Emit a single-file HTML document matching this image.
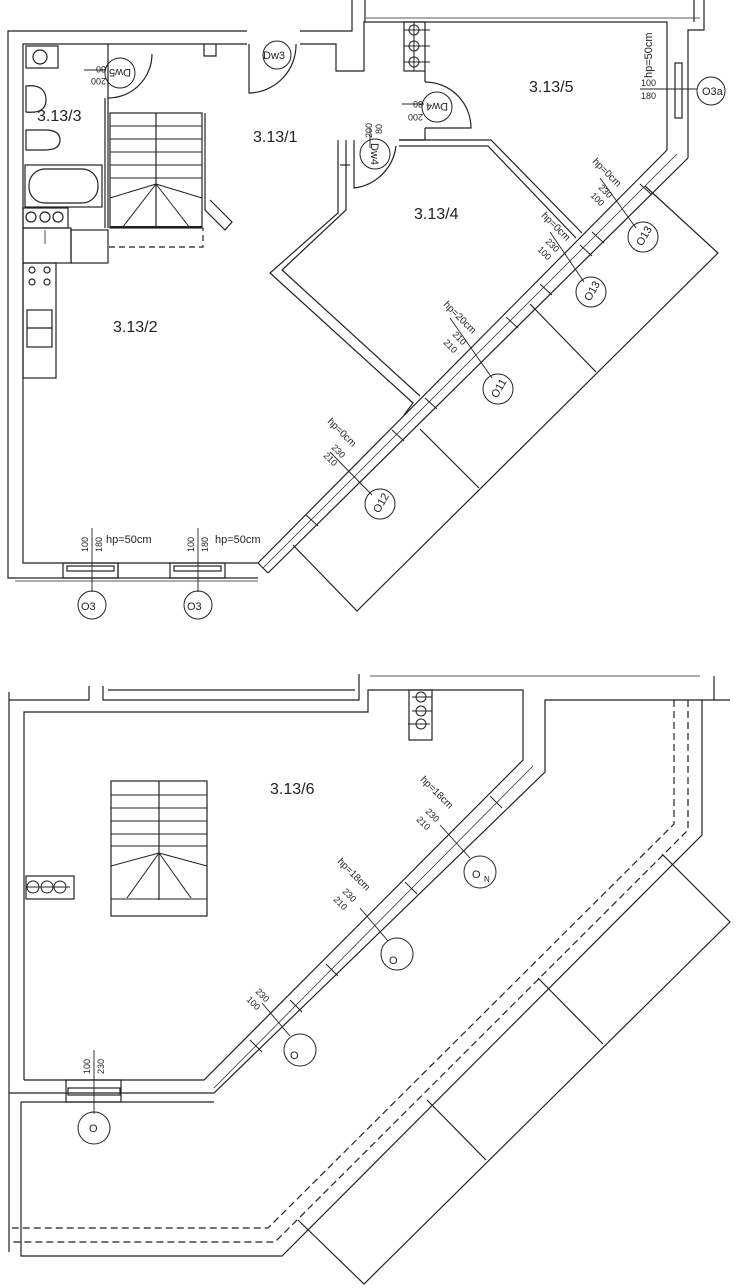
<!DOCTYPE html>
<html><head><meta charset="utf-8"><style>
html,body{margin:0;padding:0;background:#fff;width:736px;height:1288px;overflow:hidden}
svg{display:block}
text{font-family:"Liberation Sans",sans-serif;fill:#222}
</style></head><body>
<svg width="736" height="1288" viewBox="0 0 736 1288" xmlns="http://www.w3.org/2000/svg" fill="none" stroke="#222" stroke-width="1.2">
<!-- ========== TOP PLAN ========== -->
<!-- outer walls -->
<polyline points="247,31 8,31 8,578 258,578"/>
<polyline points="247,44 23,44 23,563 258,563"/>
<polyline points="300,31 352,31 352,0"/>
<polyline points="300,44 336,44 336,71 364,71 364,22 667,22 667,150"/>
<line x1="365" y1="0" x2="365" y2="22"/>
<line x1="366" y1="18" x2="700" y2="18" stroke-width="0.8"/>
<polyline points="688,158 688,30 704,30 704,0"/>
<line x1="694" y1="0" x2="694" y2="22"/>
<!-- small jog top -->
<polyline points="204,44 204,56 216,56 216,44"/>
<!-- facade diagonal -->
<line x1="258" y1="563" x2="667" y2="150"/>
<line x1="268" y1="573" x2="688" y2="158"/>
<line x1="263" y1="568" x2="677" y2="154" stroke-width="0.7"/>
<line x1="258" y1="563" x2="268" y2="573"/>
<!-- window ticks on facade -->
<g stroke-width="1">
<line x1="306" y1="515" x2="318" y2="526"/><line x1="392" y1="430" x2="404" y2="441"/>
<line x1="425" y1="398" x2="437" y2="409"/><line x1="506" y1="317" x2="518" y2="328"/>
<line x1="540" y1="284" x2="552" y2="295"/><line x1="580" y1="245" x2="592" y2="256"/>
<line x1="592" y1="232" x2="604" y2="243"/><line x1="640" y1="184" x2="652" y2="195"/>
</g>
<!-- balcony -->
<polyline points="293,545 357,611 718,253 645,186"/>
<line x1="420" y1="429" x2="479" y2="488"/>
<line x1="530" y1="304" x2="596" y2="372"/>
<!-- room 3.13/4 walls -->
<polyline points="338,140 338,213 270,273 413,403 404,415"/>
<polyline points="346,140 346,210 282,270 420,396"/>
<polyline points="399,140 491,140 582,233"/>
<polyline points="399,146 488,146 576,238"/>
<!-- wall between 3.13/5 and 3.13/1 -->
<line x1="425" y1="71" x2="425" y2="82"/>
<line x1="425" y1="128" x2="425" y2="140"/>
<line x1="399" y1="140" x2="425" y2="140"/>
<!-- right room window -->
<rect x="675" y="63" width="7" height="55"/>
<!-- shaft box -->
<rect x="404" y="22" width="21" height="49"/>
<g stroke-width="1"><circle cx="414" cy="30" r="5"/><circle cx="414" cy="46" r="5"/><circle cx="414" cy="62" r="5"/>
<line x1="404" y1="30" x2="430" y2="30"/><line x1="404" y1="46" x2="430" y2="46"/><line x1="404" y1="62" x2="430" y2="62"/>
<line x1="414" y1="22" x2="414" y2="71"/></g>
<!-- doors -->
<path d="M249,44 L249,93 A48,48 0 0 0 296,44"/>
<path d="M108,44 L108,98 A44,44 0 0 0 152,54"/>
<path d="M425,82 A46,46 0 0 1 471,128 L425,128"/>
<path d="M354,140 L354,188 A48,48 0 0 0 396,146"/>
<line x1="340" y1="165" x2="350" y2="165"/>
<!-- bathroom -->
<line x1="105" y1="98" x2="105" y2="228"/>
<line x1="108" y1="98" x2="108" y2="228"/>
<rect x="26" y="46" width="32" height="22"/><circle cx="40" cy="57" r="7"/>
<path d="M26,86 Q46,84 46,100 Q46,114 26,112 Z"/>
<path d="M26,130 L45,130 Q60,130 60,140 Q60,150 45,150 L26,150 Z"/>
<rect x="25" y="165" width="77" height="42"/>
<rect x="29" y="169" width="69" height="34" rx="16"/>
<rect x="23" y="208" width="45" height="20"/>
<circle cx="31" cy="217" r="5"/><circle cx="45" cy="217" r="5"/><circle cx="58" cy="217" r="5"/>
<rect x="23" y="228" width="48" height="35"/><rect x="71" y="230" width="37" height="33"/>
<line x1="45" y1="230" x2="45" y2="244" stroke-width="0.8"/>
<!-- kitchen -->
<rect x="23" y="263" width="33" height="115"/>
<circle cx="32" cy="270" r="3"/><circle cx="47" cy="270" r="3"/><circle cx="32" cy="282" r="3"/><circle cx="47" cy="282" r="3"/>
<rect x="27" y="310" width="25" height="37"/>
<line x1="27" y1="328" x2="52" y2="328"/>
<!-- stair -->
<rect x="110" y="113" width="92" height="115"/>
<line x1="156" y1="113" x2="156" y2="228"/>
<g stroke-width="1">
<line x1="110" y1="126" x2="202" y2="126"/><line x1="110" y1="139" x2="202" y2="139"/>
<line x1="110" y1="152" x2="202" y2="152"/><line x1="110" y1="165" x2="202" y2="165"/>
<line x1="110" y1="178" x2="202" y2="178"/>
<line x1="156" y1="184" x2="110" y2="198"/><line x1="156" y1="184" x2="122" y2="228"/>
<line x1="156" y1="184" x2="190" y2="228"/><line x1="156" y1="184" x2="202" y2="198"/>
</g>
<line x1="110" y1="227" x2="202" y2="227" stroke-width="2"/>
<polyline points="109,247 203,247 203,228" stroke-dasharray="6,4"/>
<polyline points="205,113 205,210 225,230 232,222 210,200"/>
<!-- bottom windows -->
<rect x="63" y="563" width="55" height="15"/><rect x="67" y="566" width="47" height="5"/>
<rect x="170" y="563" width="55" height="15"/><rect x="174" y="566" width="47" height="5"/>
<line x1="118" y1="563" x2="118" y2="578"/>
<line x1="15" y1="581" x2="258" y2="581" stroke-width="0.8"/>
<!-- leader lines top -->
<g stroke-width="0.9">
<line x1="92" y1="528" x2="92" y2="592"/><line x1="198" y1="528" x2="198" y2="592"/>
<line x1="640" y1="89" x2="697" y2="89"/>
<line x1="600" y1="178" x2="636" y2="228"/>
<line x1="550" y1="232" x2="584" y2="282"/>
<line x1="450" y1="318" x2="492" y2="378"/>
<line x1="330" y1="452" x2="372" y2="495"/>
<line x1="84" y1="70" x2="106" y2="70"/><line x1="402" y1="104" x2="424" y2="104"/>
<line x1="370" y1="128" x2="370" y2="148"/>
</g>
<!-- circles top -->
<g stroke-width="1">
<circle cx="92" cy="605" r="14"/><circle cx="198" cy="605" r="14"/>
<circle cx="711" cy="91" r="14"/><circle cx="277" cy="55" r="14"/>
<circle cx="120" cy="73" r="15"/><circle cx="437" cy="107" r="15"/><circle cx="375" cy="154" r="15"/>
<circle cx="643" cy="237" r="15"/><circle cx="591" cy="292" r="15"/>
<circle cx="498" cy="389" r="15"/><circle cx="380" cy="504" r="15"/>
</g>
<g stroke="none" font-size="16">
<text x="37" y="121" fill="#222">3.13/3</text>
<text x="253" y="142" fill="#222">3.13/1</text>
<text x="113" y="332" fill="#222">3.13/2</text>
<text x="414" y="219" fill="#222">3.13/4</text>
<text x="529" y="92" fill="#222">3.13/5</text>
</g>
<g stroke="none" font-size="11">
<text x="81" y="610" fill="#222">O3</text><text x="187" y="610" fill="#222">O3</text>
<text x="702" y="95" fill="#222">O3a</text><text x="263" y="59" fill="#222">Dw3</text>
<text transform="translate(120,73) rotate(180)" x="-11" y="4" fill="#222">Dw5</text>
<text transform="translate(437,107) rotate(180)" x="-11" y="4" fill="#222">Dw4</text>
<text transform="translate(375,154) rotate(90)" x="-11" y="4" fill="#222">Dw4</text>
<text transform="translate(643,237) rotate(-60)" x="-9" y="4" fill="#222">O13</text>
<text transform="translate(591,292) rotate(-60)" x="-9" y="4" fill="#222">O13</text>
<text transform="translate(498,389) rotate(-60)" x="-9" y="4" fill="#222">O11</text>
<text transform="translate(380,504) rotate(-60)" x="-9" y="4" fill="#222">O12</text>
<text x="215" y="543" fill="#222">hp=50cm</text><text x="106" y="543" fill="#222">hp=50cm</text>
<text transform="translate(652,48) rotate(-90)" x="-30" y="0" fill="#222">hp=50cm</text>
</g>
<g stroke="none" font-size="9">
<text transform="translate(88,552) rotate(-90)" fill="#222">100</text>
<text transform="translate(102,552) rotate(-90)" fill="#222">180</text>
<text transform="translate(194,552) rotate(-90)" fill="#222">100</text>
<text transform="translate(208,552) rotate(-90)" fill="#222">180</text>
<text x="641" y="86" fill="#222">100</text><text x="641" y="99" fill="#222">180</text>
<text transform="translate(106,66) rotate(180)" fill="#222">80</text>
<text transform="translate(106,78) rotate(180)" fill="#222">200</text>
<text transform="translate(423,101) rotate(180)" fill="#222">80</text>
<text transform="translate(423,114) rotate(180)" fill="#222">200</text>
<text transform="translate(372,138) rotate(-90)" fill="#222">200</text>
<text transform="translate(382,134) rotate(-90)" fill="#222">80</text>
<text transform="translate(592,162) rotate(45)" font-size="10" fill="#222">hp=0cm</text>
<text transform="translate(598,188) rotate(45)" fill="#222">230</text>
<text transform="translate(590,196) rotate(45)" fill="#222">100</text>
<text transform="translate(541,216) rotate(45)" font-size="10" fill="#222">hp=0cm</text>
<text transform="translate(545,242) rotate(45)" fill="#222">230</text>
<text transform="translate(537,250) rotate(45)" fill="#222">100</text>
<text transform="translate(443,305) rotate(45)" font-size="10" fill="#222">hp=20cm</text>
<text transform="translate(452,335) rotate(45)" fill="#222">210</text>
<text transform="translate(443,343) rotate(45)" fill="#222">210</text>
<text transform="translate(327,422) rotate(45)" font-size="10" fill="#222">hp=0cm</text>
<text transform="translate(331,448) rotate(45)" fill="#222">230</text>
<text transform="translate(323,456) rotate(45)" fill="#222">210</text>
</g>

<!-- ========== BOTTOM PLAN ========== -->
<line x1="9" y1="692" x2="9" y2="1252"/>
<polyline points="9,700 89,700 89,686"/>
<polyline points="103,686 103,700 359,700 359,674"/>
<line x1="108" y1="690" x2="355" y2="690"/>
<line x1="370" y1="676" x2="700" y2="676" stroke-width="0.8"/>
<polyline points="24,1080 24,712 368,712 368,690 523,690 523,760 204,1080 24,1080"/>
<polyline points="9,1093 214,1093 545,772 545,700 730,700"/>
<line x1="714" y1="676" x2="714" y2="700"/>
<polyline points="21,1102 214,1102"/>
<polyline points="702,700 702,835 282,1256 21,1256 21,1102"/>
<polyline points="674,700 674,824 268,1228 12,1228" stroke-dasharray="7,4"/>
<polyline points="688,700 688,830 275,1242 12,1242" stroke-dasharray="7,4"/>
<!-- inner facade line -->
<line x1="214" y1="1088" x2="533" y2="766" stroke-width="0.7"/>
<g stroke-width="1">
<line x1="490" y1="796" x2="502" y2="808"/><line x1="405" y1="882" x2="417" y2="894"/>
<line x1="326" y1="964" x2="338" y2="976"/><line x1="290" y1="1000" x2="302" y2="1012"/>
<line x1="250" y1="1040" x2="262" y2="1052"/>
</g>
<!-- bottom balcony -->
<polyline points="298,1220 364,1284 730,922 662,854"/>
<line x1="538" y1="978" x2="603" y2="1044"/>
<line x1="427" y1="1100" x2="486" y2="1160"/>
<!-- window bottom -->
<rect x="66" y="1080" width="55" height="22"/><rect x="68" y="1088" width="52" height="7"/>
<!-- vents -->
<rect x="409" y="690" width="23" height="50"/>
<g stroke-width="1"><circle cx="421" cy="697" r="5"/><circle cx="421" cy="711" r="5"/><circle cx="421" cy="724" r="5"/>
<line x1="412" y1="697" x2="432" y2="697"/><line x1="412" y1="711" x2="432" y2="711"/><line x1="408" y1="724" x2="430" y2="724"/></g>
<rect x="26" y="876" width="48" height="23"/>
<g stroke-width="1"><circle cx="33" cy="887" r="6"/><circle cx="47" cy="887" r="6"/><circle cx="60" cy="887" r="6"/>
<line x1="26" y1="887" x2="70" y2="887"/></g>
<!-- stair -->
<rect x="111" y="781" width="96" height="135"/>
<line x1="159" y1="781" x2="159" y2="900"/>
<g stroke-width="1">
<line x1="111" y1="795" x2="207" y2="795"/><line x1="111" y1="808" x2="207" y2="808"/>
<line x1="111" y1="821" x2="207" y2="821"/><line x1="111" y1="834" x2="207" y2="834"/>
<line x1="111" y1="846" x2="207" y2="846"/>
<line x1="159" y1="853" x2="111" y2="866"/><line x1="159" y1="853" x2="127" y2="898"/>
<line x1="159" y1="853" x2="191" y2="898"/><line x1="159" y1="853" x2="207" y2="866"/>
<line x1="111" y1="899" x2="207" y2="899"/>
</g>
<!-- leaders & circles bottom -->
<g stroke-width="0.9">
<line x1="94" y1="1050" x2="94" y2="1114"/>
<line x1="440" y1="825" x2="470" y2="858"/>
<line x1="360" y1="908" x2="388" y2="941"/>
<line x1="262" y1="1003" x2="290" y2="1036"/>
</g>
<g stroke-width="1">
<ellipse cx="94" cy="1128" rx="16" ry="16"/>
<ellipse cx="480" cy="872" rx="16" ry="16"/>
<ellipse cx="397" cy="954" rx="16" ry="16"/>
<ellipse cx="300" cy="1050" rx="16" ry="16"/>
</g>
<g stroke="none" font-size="16"><text x="270" y="794" fill="#222">3.13/6</text></g>
<g stroke="none" font-size="11">
<text x="89" y="1132" fill="#222">O</text><text x="472" y="878" fill="#222">O</text>
<text x="484" y="882" font-size="8" fill="#222">N</text>
<text x="389" y="964" fill="#222">O</text><text x="290" y="1059" fill="#222">O</text>
</g>
<g stroke="none" font-size="9">
<text transform="translate(90,1074) rotate(-90)" fill="#222">100</text>
<text transform="translate(104,1074) rotate(-90)" fill="#222">230</text>
<text transform="translate(420,780) rotate(45)" font-size="10" fill="#222">hp=18cm</text>
<text transform="translate(425,812) rotate(45)" fill="#222">230</text>
<text transform="translate(416,820) rotate(45)" fill="#222">210</text>
<text transform="translate(337,862) rotate(45)" font-size="10" fill="#222">hp=18cm</text>
<text transform="translate(342,892) rotate(45)" fill="#222">230</text>
<text transform="translate(333,900) rotate(45)" fill="#222">210</text>
<text transform="translate(255,992) rotate(45)" fill="#222">230</text>
<text transform="translate(246,1000) rotate(45)" fill="#222">100</text>
</g>
</svg>
</body></html>
